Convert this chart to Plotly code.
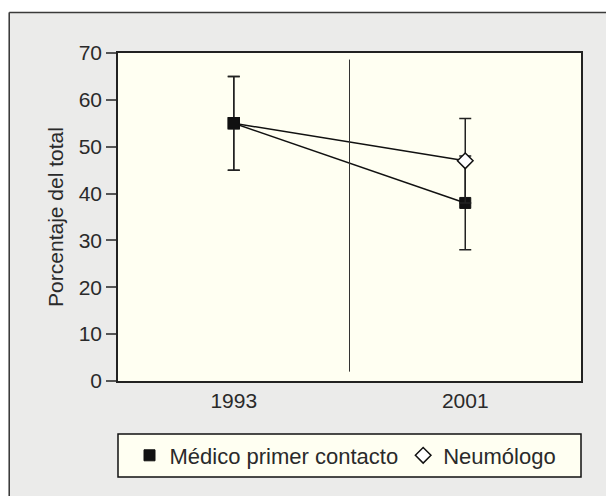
import plotly.graph_objects as go

# ---- data ----
years = ["1993", "2001"]
medico = [55, 38]
medico_err = [10, 10]
neumologo = [55, 47]
neumologo_err = [10, 9]
series_names = ["Médico primer contacto", "Neumólogo"]
y_title = "Porcentaje del total"
y_ticks = [0, 10, 20, 30, 40, 50, 60, 70]

W, H = 614, 496
OFF = 8  # page body margin offset
# target plot area in screen pixels
PX0, PX1, PY0, PY1 = 117.7, 581.3, 53, 381
ML = PX0 - OFF
MT = PY0 - OFF
PW, PH = PX1 - PX0, PY1 - PY0
MR = W - ML - PW
MB = H - MT - PH

def xp(px):  # screen px -> paper
    return (px - PX0) / PW

def yp(py):
    return (PY1 - py) / PH

FONT = "Liberation Sans, Arial, sans-serif"
TXT = "#2a2a2a"
INK = "#111111"

fig = go.Figure()

fig.add_trace(go.Scatter(
    x=years, y=medico, mode="lines+markers", name=series_names[0],
    showlegend=False,
    line=dict(color=INK, width=1.5),
    marker=dict(symbol="square", size=11, color=INK, line=dict(color=INK, width=1)),
    error_y=dict(type="data", array=medico_err, color="#222", thickness=1.5, width=6),
))
fig.add_trace(go.Scatter(
    x=years, y=neumologo, mode="lines+markers", name=series_names[1],
    showlegend=False,
    line=dict(color=INK, width=1.5),
    marker=dict(symbol=["square", "diamond"], size=[11, 12],
                color=[INK, "#ffffff"], opacity=1, line=dict(color=INK, width=1.5)),
    error_y=dict(type="data", array=neumologo_err, color="#222", thickness=1.5, width=6),
))
# legend entries (marker only)
fig.add_trace(go.Scatter(
    x=[None], y=[None], mode="markers", name=series_names[0],
    marker=dict(symbol="square", size=11, color=INK, line=dict(color=INK, width=1)),
))
fig.add_trace(go.Scatter(
    x=[None], y=[None], mode="markers", name=series_names[1],
    marker=dict(symbol="diamond", size=12, color="white", line=dict(color=INK, width=1.5)),
))

shapes = [
    # white strip above frame
    dict(type="rect", xref="paper", yref="paper", layer="below",
         x0=xp(-20), x1=xp(W + 20), y0=yp(12), y1=yp(-20),
         fillcolor="white", line=dict(width=0)),
    # outer frame lines
    dict(type="line", xref="paper", yref="paper",
         x0=xp(8.8), x1=xp(W + 20), y0=yp(12.5), y1=yp(12.5),
         line=dict(color="#3a3a3a", width=1.5)),
    dict(type="line", xref="paper", yref="paper",
         x0=xp(8.8), x1=xp(8.8), y0=yp(12.5), y1=yp(H + 20),
         line=dict(color="#3a3a3a", width=1.5)),
    # legend box
    dict(type="rect", xref="paper", yref="paper", layer="below",
         x0=0, x1=1, y0=yp(477), y1=yp(434),
         fillcolor="#FFFFF2", line=dict(color=INK, width=1.5)),
    # category separator
    dict(type="line", xref="x", yref="y", x0=0.5, x1=0.5, y0=2, y1=68.6,
         line=dict(color="#333", width=1)),
]

fig.update_layout(
    width=W, height=H,
    margin=dict(l=ML, r=MR, t=MT, b=MB, pad=0, autoexpand=False),
    paper_bgcolor="#EBEBEA",
    plot_bgcolor="#FFFFF2",
    font=dict(family=FONT, size=21, color=TXT),
    showlegend=True,
    legend=dict(orientation="h", x=0.5 - 4 / PW, xanchor="center", y=yp(455.5), yanchor="middle",
                bgcolor="rgba(0,0,0,0)", borderwidth=0,
                font=dict(family=FONT, size=22, color=TXT),
                itemwidth=30, tracegroupgap=0),
    shapes=shapes,
    xaxis=dict(type="category", range=[-0.5, 1.5], showgrid=False, zeroline=False,
               showline=True, linecolor="#222", linewidth=1.5, mirror=True,
               ticks="", tickfont=dict(size=21, color=TXT)),
    yaxis=dict(range=[0, 70], tickvals=y_ticks, showgrid=False, zeroline=False,
               showline=True, linecolor="#222", linewidth=1.5, mirror=True,
               ticks="outside", ticklen=10, tickwidth=1.5, tickcolor="#555",
               tickfont=dict(size=21, color=TXT),
               title=dict(text=y_title, font=dict(size=21, color=TXT), standoff=9)),
)

fig.write_html("out.html")
